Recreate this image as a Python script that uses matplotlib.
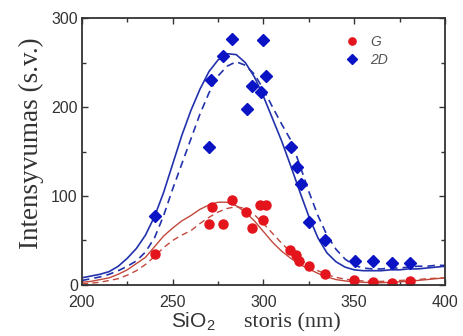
import matplotlib
matplotlib.use("Agg")
import matplotlib.pyplot as plt
from matplotlib.ticker import MultipleLocator

# ---- data ----
g_x = [240, 270, 271.4, 277.5, 282.5, 290.5, 293.6, 298.2, 301.2, 299.8,
       314.8, 317.8, 319.8, 325.2, 333.8, 350, 360.3, 371, 380.7]
g_y = [35, 68, 88, 68, 95, 81.5, 64.5, 90, 90, 73,
       39, 34, 27, 21.5, 12, 5.6, 3, 2.6, 4.5]

d_x = [240, 270, 271.3, 277.5, 282.5, 290.7, 293.8, 298.6, 299.7, 301.4,
       315, 318.4, 320.5, 325.1, 333.8, 350.2, 360.2, 371, 380.7]
d_y = [77, 155, 230, 257, 276, 197.5, 224, 217, 275, 235,
       155.5, 133, 113, 71, 50.5, 26.5, 26.5, 25, 25]

curve_x = list(range(200, 401, 5))
d_solid = [8, 10, 12, 15, 21, 30, 41, 56, 77, 104,
           136, 168, 196, 220, 240, 253, 260, 259, 250, 234,
           212, 187, 162, 134, 105, 77, 53, 36, 26, 20,
           17, 16, 16, 16, 17, 17, 18, 18, 19, 20, 21]
d_dash = [5, 7, 9, 12, 16, 21, 27, 37, 53, 78,
          108, 136, 164, 192, 216, 235, 246, 251, 247, 237,
          220, 200, 181, 163, 135, 105, 78, 56, 40, 29,
          22, 19, 18, 18, 19, 19, 20, 21, 21, 22, 22]
g_solid = [3, 4, 6, 8, 12, 17, 24, 31, 43, 55,
           64, 72, 78, 85, 90, 93, 93, 89, 82, 72,
           60, 48, 38, 30, 23, 18, 13, 9, 6, 4.5,
           3.5, 3, 2.5, 2.5, 3, 3.5, 4, 5, 6, 7, 8]
g_dash = [1, 2, 3, 5, 7, 11, 16, 23, 32, 42,
          50, 56, 61, 69, 76, 82, 86, 88, 86, 79,
          69, 58, 47, 37, 29, 22, 16, 11.5, 8.5, 6.5,
          5, 4.5, 4, 4, 4.5, 5, 5.5, 6, 7, 7.5, 8]

x_ticks = [200, 250, 300, 350, 400]
y_ticks = [0, 100, 200, 300]

RED = "#e3141c"
BLUE = "#0a14c4"
RED_LINE = "#c2483c"
BLUE_LINE = "#2232ac"

fig = plt.figure(figsize=(4.63, 3.36), dpi=100)
ax = fig.add_axes([0.177, 0.152, 0.784, 0.794])

ax.plot(curve_x, d_solid, color=BLUE_LINE, lw=1.2)
ax.plot(curve_x, d_dash, color=BLUE_LINE, lw=1.2, dashes=(4.5, 3))
ax.plot(curve_x, g_solid, color=RED_LINE, lw=1.0)
ax.plot(curve_x, g_dash, color=RED_LINE, lw=1.0, dashes=(4.5, 3))

ax.plot(g_x, g_y, ls="none", marker="o", ms=6.5, color=RED, mec=RED, label="G")
ax.plot(d_x, d_y, ls="none", marker="D", ms=6, color=BLUE, mec=BLUE, label="2D")

ax.set_xlim(200, 400)
ax.set_ylim(0, 300)
ax.set_xticks(x_ticks)
ax.set_yticks(y_ticks)
ax.xaxis.set_minor_locator(MultipleLocator(25))
ax.yaxis.set_minor_locator(MultipleLocator(50))
ax.tick_params(which="both", direction="in", top=True, right=True,
               color="#333333", width=1.0)
ax.tick_params(which="major", length=4.5, labelsize=11.5, labelcolor="#333333")
ax.tick_params(axis="x", which="major", pad=7)
ax.tick_params(axis="y", which="major", pad=3)
ax.tick_params(which="minor", length=3)
for lab in ax.get_xticklabels() + ax.get_yticklabels():
    lab.set_family("Liberation Sans")
for s in ax.spines.values():
    s.set_linewidth(1.3)
    s.set_color("#333333")

ax.set_ylabel("Intensyvumas (s.v.)", family="Liberation Serif", fontsize=19.5,
              color="#333333")
ax.yaxis.set_label_coords(-0.105, 0.53)

fig.text(0.466, 0.025, "SiO$_\\mathregular{2}$", family="Liberation Sans", fontsize=15,
         color="#333333", ha="right", va="baseline")
fig.text(0.528, 0.025, "storis (nm)", family="Liberation Serif", fontsize=16,
         color="#333333", ha="left", va="baseline")

leg = ax.legend(loc="upper left", bbox_to_anchor=(0.69, 0.985), frameon=False,
                handlelength=1.0, handletextpad=0.8, labelspacing=0.3,
                prop={"family": "Liberation Sans", "style": "italic", "size": 10},
                labelcolor="#555555", markerscale=0.8)

fig.savefig("out.png", dpi=100)
